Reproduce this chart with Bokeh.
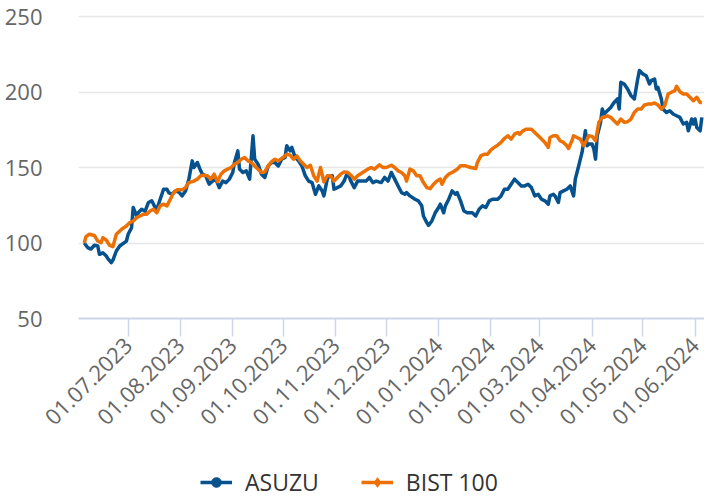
import math
import pandas as pd
from bokeh.plotting import figure
from bokeh.layouts import column
from bokeh.models import (Range1d, DatetimeTickFormatter, MonthsTicker, Legend,
                          LegendItem, ColumnDataSource, FixedTicker)
from bokeh.embed import file_html
from bokeh.resources import INLINE

# ---------------- data ----------------
asuzu_dates = [
    "2023-06-05", "2023-06-07", "2023-06-09", "2023-06-11", "2023-06-13", "2023-06-14",
    "2023-06-16", "2023-06-18", "2023-06-19", "2023-06-21", "2023-06-22", "2023-06-24",
    "2023-06-26", "2023-06-30", "2023-07-01", "2023-07-03", "2023-07-04", "2023-07-06",
    "2023-07-07", "2023-07-09", "2023-07-11", "2023-07-13", "2023-07-15", "2023-07-17",
    "2023-07-18", "2023-07-20", "2023-07-22", "2023-07-24", "2023-07-25", "2023-07-27",
    "2023-07-29", "2023-07-31", "2023-08-02", "2023-08-04", "2023-08-06", "2023-08-08",
    "2023-08-09", "2023-08-11", "2023-08-13", "2023-08-14", "2023-08-16", "2023-08-18",
    "2023-08-20", "2023-08-22", "2023-08-24", "2023-08-26", "2023-08-28", "2023-08-30",
    "2023-09-01", "2023-09-02", "2023-09-04", "2023-09-05", "2023-09-07", "2023-09-09",
    "2023-09-11", "2023-09-13", "2023-09-14", "2023-09-16", "2023-09-18", "2023-09-20",
    "2023-09-22", "2023-09-24", "2023-09-26", "2023-09-28", "2023-09-30", "2023-10-02",
    "2023-10-03", "2023-10-05", "2023-10-06", "2023-10-08", "2023-10-10", "2023-10-12",
    "2023-10-14", "2023-10-16", "2023-10-18", "2023-10-20", "2023-10-22", "2023-10-24",
    "2023-10-25", "2023-10-27", "2023-10-28", "2023-10-30", "2023-10-31", "2023-11-02",
    "2023-11-04", "2023-11-06", "2023-11-08", "2023-11-10",
    "2023-11-12", "2023-11-14", "2023-11-16", "2023-11-19", "2023-11-21", "2023-11-23",
    "2023-11-25", "2023-11-28", "2023-11-30", "2023-12-02", "2023-12-04", "2023-12-06",
    "2023-12-08", "2023-12-10", "2023-12-12", "2023-12-13", "2023-12-15", "2023-12-18",
    "2023-12-20", "2023-12-22", "2023-12-23", "2023-12-25", "2023-12-26", "2023-12-28",
    "2023-12-30", "2024-01-01", "2024-01-02", "2024-01-04", "2024-01-05", "2024-01-07",
    "2024-01-09", "2024-01-11", "2024-01-12", "2024-01-14", "2024-01-16", "2024-01-18",
    "2024-01-21", "2024-01-23", "2024-01-25", "2024-01-27", "2024-01-29", "2024-01-31",
    "2024-02-02", "2024-02-05", "2024-02-07", "2024-02-09", "2024-02-11", "2024-02-13",
    "2024-02-15", "2024-02-17", "2024-02-19", "2024-02-21", "2024-02-23", "2024-02-25",
    "2024-02-27", "2024-02-29", "2024-03-02", "2024-03-04", "2024-03-06", "2024-03-07",
    "2024-03-09", "2024-03-10", "2024-03-12", "2024-03-13", "2024-03-15", "2024-03-17",
    "2024-03-19", "2024-03-20", "2024-03-21", "2024-03-22", "2024-03-24", "2024-03-26",
    "2024-03-28", "2024-03-29", "2024-03-30", "2024-04-01", "2024-04-02", "2024-04-03",
    "2024-04-04", "2024-04-06", "2024-04-07", "2024-04-08", "2024-04-10", "2024-04-12",
    "2024-04-14", "2024-04-16", "2024-04-17", "2024-04-18", "2024-04-20", "2024-04-22",
    "2024-04-24", "2024-04-26", "2024-04-28", "2024-04-29", "2024-05-01", "2024-05-03",
    "2024-05-05", "2024-05-06", "2024-05-08", "2024-05-09", "2024-05-10", "2024-05-12",
    "2024-05-13", "2024-05-15", "2024-05-17", "2024-05-19", "2024-05-21", "2024-05-23",
    "2024-05-25", "2024-05-27", "2024-05-28", "2024-05-30", "2024-05-31", "2024-06-01",
    "2024-06-02", "2024-06-04", "2024-06-05",
]
asuzu_values = [
    100.0, 97.0, 96.0, 98.5, 98.0, 92.5,
    93.5, 91.5, 89.6, 87.0, 88.7, 94.7,
    98.0, 101.3, 105.8, 110.0, 123.5, 118.0,
    120.0, 122.3, 121.0, 126.8, 128.0, 123.5,
    122.3, 129.0, 135.6, 135.6, 133.4, 132.3,
    134.5, 133.8, 131.2, 134.5, 142.3, 154.4,
    150.0, 153.3, 147.8, 145.6, 144.5, 139.0,
    141.0, 142.3, 136.7, 141.0, 140.0, 142.3,
    146.7, 153.3, 161.0, 149.0, 146.7, 147.8,
    142.3, 171.0, 155.5, 152.2, 145.6, 143.4,
    151.0, 153.3, 153.3, 151.0, 155.5, 156.6,
    164.4, 161.0, 163.3, 156.6, 154.4, 151.0,
    144.5, 141.0, 140.0, 132.3, 137.8, 134.5,
    131.2, 142.3, 144.5, 144.5, 135.6, 136.7,
    137.8, 141.0, 146.7, 141.0,
    136.7, 141.0, 141.0, 141.0, 143.4, 140.0,
    141.0, 140.0, 143.4, 141.0, 146.7, 142.3,
    137.8, 133.4, 132.3, 133.4, 131.2, 129.0,
    127.9, 124.6, 117.9, 113.5, 111.7, 114.6,
    120.0, 123.5, 125.7, 120.0, 124.6, 129.0,
    134.5, 132.3, 133.4, 127.9, 121.2, 120.0,
    120.0, 117.9, 122.3, 124.6, 123.5, 127.9,
    129.0, 129.0, 131.2, 135.6, 135.6, 138.9,
    142.3, 140.0, 137.8, 137.8, 138.9, 136.7,
    131.2, 132.3, 129.0, 127.9, 125.7, 131.2,
    132.3, 131.2, 126.8, 133.4, 134.5, 135.6,
    137.8, 134.5, 131.2, 142.3, 151.0, 160.0,
    174.3, 164.4, 165.5, 165.5, 162.2, 155.5,
    171.0, 179.9, 188.7, 185.4, 187.6, 189.8,
    193.1, 195.4, 188.7, 206.4, 205.3, 202.0,
    197.6, 195.4, 208.6, 214.2, 212.0, 210.8,
    205.3, 207.5, 208.6, 202.0, 203.0, 195.4,
    188.7, 186.5, 187.6, 185.4, 184.3, 183.2,
    178.8, 179.9, 174.3, 182.1, 178.8, 182.1,
    176.5, 174.3, 183.2,
]

bist_dates = [
    "2023-06-05", "2023-06-06", "2023-06-08", "2023-06-11", "2023-06-13", "2023-06-15",
    "2023-06-16", "2023-06-18", "2023-06-20", "2023-06-22", "2023-06-24", "2023-06-27",
    "2023-06-30", "2023-07-02", "2023-07-04", "2023-07-06", "2023-07-08", "2023-07-10",
    "2023-07-12", "2023-07-14", "2023-07-16", "2023-07-18", "2023-07-20", "2023-07-22",
    "2023-07-24", "2023-07-26", "2023-07-28", "2023-07-30", "2023-08-02", "2023-08-04",
    "2023-08-06", "2023-08-09", "2023-08-11", "2023-08-13", "2023-08-15", "2023-08-17",
    "2023-08-19", "2023-08-21", "2023-08-23", "2023-08-25", "2023-08-27", "2023-08-29",
    "2023-08-31", "2023-09-02", "2023-09-04", "2023-09-06", "2023-09-08", "2023-09-10",
    "2023-09-12", "2023-09-14", "2023-09-16", "2023-09-18", "2023-09-20", "2023-09-22",
    "2023-09-24", "2023-09-26", "2023-09-28", "2023-09-30", "2023-10-02", "2023-10-03",
    "2023-10-05", "2023-10-07", "2023-10-09", "2023-10-11", "2023-10-13", "2023-10-15",
    "2023-10-17", "2023-10-19", "2023-10-21", "2023-10-23", "2023-10-25", "2023-10-27",
    "2023-10-29", "2023-10-31", "2023-11-02", "2023-11-04", "2023-11-06", "2023-11-08",
    "2023-11-10",
    "2023-11-12", "2023-11-14", "2023-11-17", "2023-11-20", "2023-11-22", "2023-11-24",
    "2023-11-27", "2023-11-29", "2023-12-01", "2023-12-04", "2023-12-06", "2023-12-08",
    "2023-12-10", "2023-12-12", "2023-12-13", "2023-12-15", "2023-12-17", "2023-12-19",
    "2023-12-21", "2023-12-23", "2023-12-25", "2023-12-27", "2023-12-29", "2023-12-31",
    "2024-01-02", "2024-01-03", "2024-01-05", "2024-01-07", "2024-01-09", "2024-01-12",
    "2024-01-14", "2024-01-17", "2024-01-20", "2024-01-23", "2024-01-24", "2024-01-26",
    "2024-01-28", "2024-01-30", "2024-02-01", "2024-02-03", "2024-02-05", "2024-02-07",
    "2024-02-09", "2024-02-11", "2024-02-13", "2024-02-15", "2024-02-17", "2024-02-18",
    "2024-02-20", "2024-02-22", "2024-02-25", "2024-02-27", "2024-02-29", "2024-03-02",
    "2024-03-04", "2024-03-06", "2024-03-07", "2024-03-09", "2024-03-11", "2024-03-13",
    "2024-03-15", "2024-03-17", "2024-03-18", "2024-03-20", "2024-03-21", "2024-03-23",
    "2024-03-25", "2024-03-27", "2024-03-28", "2024-03-30", "2024-04-01", "2024-04-03",
    "2024-04-05", "2024-04-07", "2024-04-08", "2024-04-10", "2024-04-12", "2024-04-14",
    "2024-04-16", "2024-04-18", "2024-04-20", "2024-04-22", "2024-04-24", "2024-04-26",
    "2024-04-28", "2024-04-30", "2024-05-02", "2024-05-04", "2024-05-06", "2024-05-08",
    "2024-05-10", "2024-05-12", "2024-05-14", "2024-05-16", "2024-05-18", "2024-05-20",
    "2024-05-21", "2024-05-23", "2024-05-25", "2024-05-27", "2024-05-29", "2024-05-31",
    "2024-06-02", "2024-06-04", "2024-06-05",
]
bist_values = [
    100.0, 104.2, 105.8, 105.0, 101.3, 100.2,
    103.5, 102.0, 98.5, 97.6, 105.8, 109.0,
    111.3, 113.5, 114.6, 116.8, 117.9, 119.0,
    119.0, 121.2, 122.3, 120.0, 124.6, 125.7,
    124.6, 129.0, 133.4, 135.2, 135.2, 136.7,
    140.0, 141.0, 142.3, 144.5, 144.9, 144.5,
    142.3, 145.6, 140.5, 145.6, 147.8, 148.9,
    150.0, 152.2, 153.3, 155.5, 156.6, 154.4,
    153.3, 151.0, 148.9, 146.7, 147.1, 151.0,
    153.8, 155.5, 154.4, 156.0, 157.7, 158.8,
    158.2, 155.5, 157.7, 154.4, 152.2, 150.0,
    151.5, 144.5, 141.0, 150.0, 140.5, 144.5,
    144.5, 141.0, 143.4, 145.6, 147.1, 146.7,
    144.9,
    142.3, 144.5, 146.7, 148.9, 150.0, 148.9,
    151.8, 150.0, 150.0, 151.5, 150.0, 147.8,
    146.7, 144.5, 141.0, 148.9, 147.8, 144.5,
    144.5, 140.0, 136.7, 136.0, 138.9, 141.0,
    142.3, 138.9, 143.4, 145.6, 146.7, 148.9,
    151.1, 151.1, 150.0, 149.3, 153.3, 157.7,
    158.8, 158.8, 161.7, 163.3, 164.8, 166.6,
    169.2, 171.0, 168.8, 172.1, 173.2, 172.1,
    174.3, 175.4, 175.4, 173.2, 171.0, 168.8,
    166.6, 163.3, 169.9, 171.0, 171.0, 167.7,
    166.6, 164.4, 162.6, 167.7, 171.0, 169.9,
    168.8, 164.4, 166.6, 171.0, 170.6, 167.7,
    179.9, 183.2, 183.2, 184.3, 183.2, 181.0,
    178.8, 182.1, 179.9, 180.3, 182.1, 186.5,
    188.7, 188.7, 191.4, 192.0, 192.0, 192.7,
    191.4, 188.7, 190.9, 198.7, 199.8, 200.9,
    203.8, 200.2, 198.7, 198.7, 196.5, 194.2,
    196.5, 193.1, 193.1,
]

series_names = ["ASUZU", "BIST 100"]
y_ticks = [50, 100, 150, 200, 250]

BLUE = "#06528f"
ORANGE = "#ec7003"
FONT = "Open Sans"

src_a = ColumnDataSource(dict(d=pd.to_datetime(asuzu_dates), v=asuzu_values))
src_b = ColumnDataSource(dict(d=pd.to_datetime(bist_dates), v=bist_values))

# ---------------- main chart ----------------
p = figure(
    width=704, height=455, x_axis_type="datetime",
    output_backend="svg", toolbar_location=None,
    x_range=Range1d(pd.Timestamp("2023-06-01 14:00"), pd.Timestamp("2024-06-06 14:00")),
    y_range=Range1d(50, 255.3),
    min_border_left=78, min_border_right=0, min_border_top=8, min_border_bottom=137,
    outline_line_color=None, background_fill_color="white", border_fill_color="white",
)

p.line(x="d", y="v", source=src_a, line_color=BLUE, line_width=3.5, line_join="round")
p.line(x="d", y="v", source=src_b, line_color=ORANGE, line_width=3.5, line_join="round")

# y axis
p.yaxis.ticker = FixedTicker(ticks=y_ticks)
p.yaxis.axis_line_color = None
p.yaxis.major_tick_line_color = None
p.yaxis.minor_tick_line_color = None
p.yaxis.major_tick_out = 0
p.yaxis.major_tick_in = 0
p.yaxis.major_label_standoff = 36
p.yaxis.major_label_text_font = FONT
p.yaxis.major_label_text_font_size = "22px"
p.yaxis.major_label_text_color = "#666666"

p.ygrid.grid_line_color = "#e6e6e6"
p.ygrid.grid_line_width = 1.5
p.xgrid.visible = False

# x axis
p.xaxis.ticker = MonthsTicker(months=list(range(12)))
fmt = "%d.%m.%Y"
p.xaxis.formatter = DatetimeTickFormatter(days=fmt, months=fmt, years=fmt)
p.xaxis.major_label_orientation = math.pi / 4
p.xaxis.axis_line_color = "#ccd6eb"
p.xaxis.axis_line_width = 2
p.xaxis.major_tick_line_color = "#ccd6eb"
p.xaxis.major_tick_line_width = 1.5
p.xaxis.major_tick_out = 18
p.xaxis.major_tick_in = 0
p.xaxis.minor_tick_line_color = None
p.xaxis.major_label_standoff = 5
p.xaxis.major_label_text_font = FONT
p.xaxis.major_label_text_font_size = "22px"
p.xaxis.major_label_text_color = "#666666"

# ---------------- legend strip ----------------
q = figure(
    width=704, height=44, output_backend="svg", toolbar_location=None,
    x_axis_location=None, y_axis_location=None,
    x_range=Range1d(0, 1), y_range=Range1d(0, 1),
    min_border=0, outline_line_color=None,
    background_fill_color="white", border_fill_color="white",
)
q.xgrid.visible = False
q.ygrid.visible = False
qa = q.line(x="d", y="v", source=src_a, line_color=BLUE, line_width=3.5, visible=False)
qas = q.scatter(x="d", y="v", source=src_a, marker="circle", size=10,
                fill_color=BLUE, line_color=BLUE, visible=False)
qb = q.line(x="d", y="v", source=src_b, line_color=ORANGE, line_width=3.5, visible=False)
qbs = q.scatter(x="d", y="v", source=src_b, marker="diamond", size=12,
                fill_color=ORANGE, line_color=ORANGE, visible=False)

legend = Legend(
    items=[LegendItem(label=series_names[0], renderers=[qa, qas]),
           LegendItem(label=series_names[1], renderers=[qb, qbs])],
    orientation="horizontal", location=(122, 1),
    border_line_color=None, background_fill_alpha=0,
    padding=0, margin=0, spacing=42, label_standoff=13,
    glyph_width=32, glyph_height=24,
    label_text_font=FONT, label_text_font_size="23px", label_text_color="#333333",
)
q.add_layout(legend)

layout = column(p, q, spacing=0)
open("out.html", "w").write(file_html(layout, INLINE))
